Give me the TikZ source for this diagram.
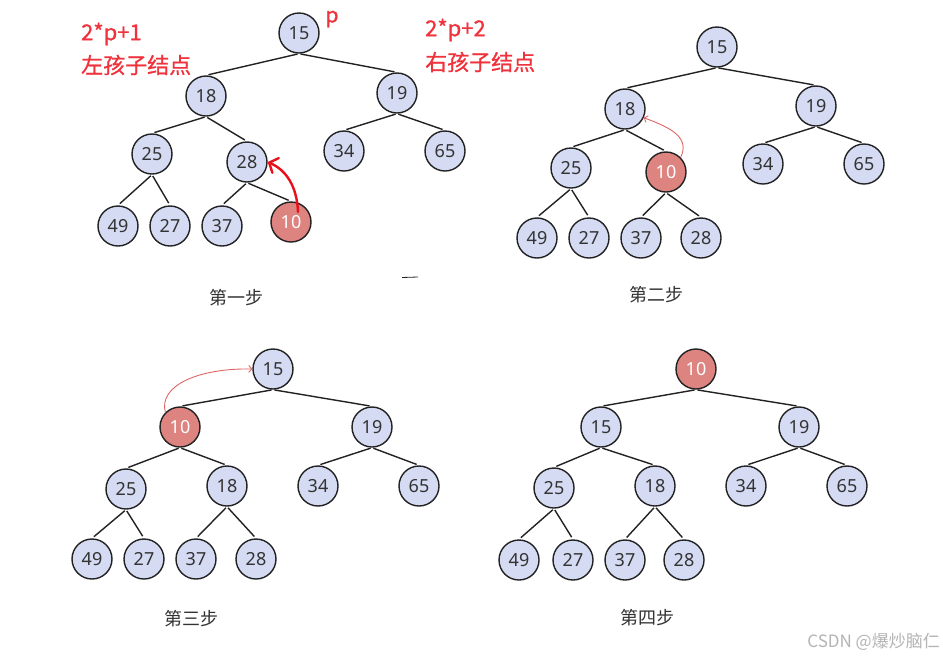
\documentclass[tikz,border=0pt]{standalone}
\usepackage{fontspec}
\setmainfont{Noto Sans}
\newfontfamily\cjk{Noto Sans CJK SC}
\newfontfamily\cjkb[FakeBold=0.8]{Noto Sans CJK SC}
\usetikzlibrary{arrows.meta}
\definecolor{nodeblue}{HTML}{D5DBF3}
\definecolor{nodered}{HTML}{DD8380}
\definecolor{inkc}{HTML}{222222}
\definecolor{txtc}{HTML}{333333}
\definecolor{labred}{HTML}{F0323C}
\definecolor{arrred}{HTML}{E8101A}
\definecolor{thinred}{HTML}{E06666}
\definecolor{wmark}{HTML}{B4B4B4}
\begin{document}
\begin{tikzpicture}[x=1pt,y=-1pt,
  nd/.style={circle,draw=inkc,line width=1.4pt,fill=nodeblue,minimum size=40pt,inner sep=0pt,text=txtc,font=\fontsize{18}{18}\selectfont},
  hot/.style={nd,fill=nodered,text=white},
  edge/.style={draw=inkc,line width=1.4pt,shorten >=2.5pt,shorten <=1.5pt},
  steplab/.style={font=\cjk\fontsize{18}{18}\selectfont,text=txtc,inner sep=0pt},
  redlab/.style={font=\cjkb\fontsize{22}{22}\selectfont,text=labred,inner sep=0pt,anchor=west}]
\useasboundingbox[fill=white] (0,0) rectangle (943,657);

% ---------- tree 1 ----------
\node[nd] (t1r)   at (299,33)  {15};
\node[nd] (t1L)   at (206,96)  {18};
\node[nd] (t1R)   at (397,93)  {19};
\node[nd] (t1LL)  at (152,154) {25};
\node[nd] (t1LR)  at (247,162) {28};
\node[nd] (t1RL)  at (344,151) {34};
\node[nd] (t1RR)  at (445,151) {65};
\node[nd] (t1LLL) at (118,226) {49};
\node[nd] (t1LLR) at (170,226) {27};
\node[nd] (t1LRL) at (222,226) {37};
\node[hot] (t1LRR) at (291,222) {10};
\node[steplab] (s1) at (236,298) {第一步};

% ---------- tree 2 ----------
\node[nd] (t2r)   at (717,47)  {15};
\node[nd] (t2L)   at (625,109) {18};
\node[nd] (t2R)   at (816,106) {19};
\node[nd] (t2LL)  at (571,168) {25};
\node[hot] (t2LR) at (666,172) {10};
\node[nd] (t2RL)  at (763,164) {34};
\node[nd] (t2RR)  at (864,164) {65};
\node[nd] (t2LLL) at (537,238) {49};
\node[nd] (t2LLR) at (589,238) {27};
\node[nd] (t2LRL) at (641,238) {37};
\node[nd] (t2LRR) at (701,238) {28};
\node[steplab] (s2) at (656,295) {第二步};

% ---------- tree 3 ----------
\node[nd] (t3r)   at (273,369) {15};
\node[hot] (t3L)  at (180,427) {10};
\node[nd] (t3R)   at (372,427) {19};
\node[nd] (t3LL)  at (126,489) {25};
\node[nd] (t3LR)  at (227,486) {18};
\node[nd] (t3RL)  at (318,486) {34};
\node[nd] (t3RR)  at (419,486) {65};
\node[nd] (t3LLL) at (92,559)  {49};
\node[nd] (t3LLR) at (144,559) {27};
\node[nd] (t3LRL) at (196,559) {37};
\node[nd] (t3LRR) at (256,559) {28};
\node[steplab] (s3) at (191,619) {第三步};

% ---------- tree 4 ----------
\node[hot] (t4r)  at (696,369) {10};
\node[nd] (t4L)   at (601,427) {15};
\node[nd] (t4R)   at (799,427) {19};
\node[nd] (t4LL)  at (554,488) {25};
\node[nd] (t4LR)  at (655,486) {18};
\node[nd] (t4RL)  at (746,486) {34};
\node[nd] (t4RR)  at (847,486) {65};
\node[nd] (t4LLL) at (519,560) {49};
\node[nd] (t4LLR) at (573,560) {27};
\node[nd] (t4LRL) at (625,560) {37};
\node[nd] (t4LRR) at (684,560) {28};
\node[steplab] (s4) at (647,618) {第四步};

% ---------- edges ----------
\foreach \t in {1,2,3,4}
  \foreach \p/\c in {r/L, r/R, L/LL, L/LR, R/RL, R/RR, LL/LLL, LL/LLR, LR/LRL, LR/LRR}
    \draw[edge] (t\t\p.south) -- (t\t\c.north);

% ---------- red labels ----------
\node[redlab] (l1) at (81,34) {2*p+1};
\node[redlab] (l2) at (81,65) {左孩子结点};
\node[redlab] (l3) at (425,30) {2*p+2};
\node[redlab] (l4) at (425,62) {右孩子结点};
\node[font=\cjkb\fontsize{21}{21}\selectfont,text=labred,inner sep=0pt] (lp) at (332,19) {p};

% ---------- arrows ----------
\coordinate (j1) at ([xshift=7pt,yshift=10pt]t1LRR.center);
\draw[arrred,line width=2.4pt,line cap=round,-{Straight Barb[length=7pt,width=16pt,line cap=round]}]
  (j1) .. controls (297,186) and (286,170) .. (t1LR.east);
\draw[thinred,line width=0.9pt,-{Straight Barb[length=3pt,width=7pt]}]
  (t2LR.45) .. controls (690,138) and (672,128) .. (t2L.-25);
\draw[thinred,line width=0.9pt,-{Straight Barb[length=3pt,width=7pt]}]
  (t3L.135) .. controls (158,385) and (200,368) .. (t3r.west);

% small stray mark
\draw[inkc,line width=0.8pt] (402,277.5) -- (418,277);

% watermark
\node[font=\cjk\fontsize{17}{17}\selectfont,text=wmark,inner sep=0pt,anchor=east] (wm) at (940,642) {CSDN @爆炒脑仁};
\end{tikzpicture}
\end{document}
